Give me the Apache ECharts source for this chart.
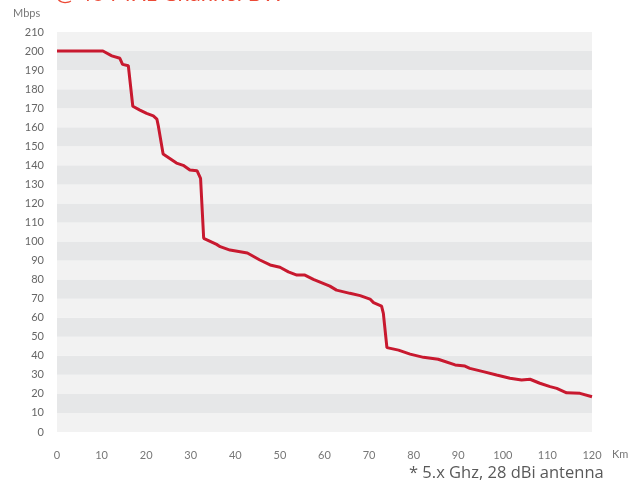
<!DOCTYPE html>
<html>
<head>
<meta charset="utf-8">
<script src="https://cdn.jsdelivr.net/npm/echarts@6/dist/echarts.min.js"></script>
<style>html,body{margin:0;padding:0;background:#fff}#c{width:642px;height:487px}</style>
</head>
<body>
<div id="c"></div>
<script>
var distanceKm = [0,10.3,12.3,14.1,14.7,16,17,18.6,20.1,21.6,22.4,22.7,23.8,26.8,28.3,29.8,31.4,32.2,32.9,35.8,36.6,38.8,42.7,45.5,47.8,50,51.9,53.8,55.6,57.5,61.2,62.7,65.7,68,70.2,71,72.8,73.2,74,76.6,79.2,82.2,85.5,89.3,91.5,92.6,95.6,98.6,101.6,104.2,106.1,108.3,110.6,112.1,114.3,117.3,120];
var throughputMbps = [200,200,197.5,196.2,193,192.3,171,169,167.3,166,164.3,161,146,141.2,140,137.5,137.2,133.2,101.7,98.5,97.3,95.5,94,90.3,87.7,86.5,84.1,82.4,82.4,80.1,76.6,74.5,72.8,71.6,69.8,67.9,66.1,62.3,44.3,43,40.9,39.2,38.2,35.2,34.6,33.4,31.7,29.9,28.2,27.3,27.7,25.6,23.8,22.9,20.6,20.3,18.5];
var titleText = '@ 40 MHz Channel BW';
var yUnit = 'Mbps';
var xUnit = 'Km';
var footnote = '* 5.x Ghz, 28 dBi antenna';

var points = distanceKm.map(function(k,i){return [k, throughputMbps[i]];});
var font = 'Lato, "Noto Sans", sans-serif';
var chart = echarts.init(document.getElementById('c'));
chart.setOption({
  animation: false,
  grid: {left: 57, right: 50, top: 32, bottom: 55},
  xAxis: {
    type: 'value', min: 0, max: 120, interval: 10,
    axisLine: {show: false}, axisTick: {show: false}, splitLine: {show: false},
    axisLabel: {color: '#777', fontSize: 11, margin: 18, fontFamily: font}
  },
  yAxis: {
    type: 'value', min: 0, max: 210, interval: 10,
    axisLine: {show: false}, axisTick: {show: false}, splitLine: {show: false},
    splitArea: {show: true, areaStyle: {color: ['#f2f2f2', '#e6e7e8']}},
    axisLabel: {color: '#666', fontSize: 11, margin: 13, fontFamily: font}
  },
  graphic: [
    {type: 'text', left: 55, top: -17, style: {text: titleText, fill: '#ec4a36', font: '22px ' + font}},
    {type: 'text', left: 13, top: 8, style: {text: yUnit, fill: '#777', font: '11px ' + font}},
    {type: 'text', left: 612, top: 449, style: {text: xUnit, fill: '#777', font: '11px ' + font}},
    {type: 'text', left: 409, top: 465, style: {text: footnote, fill: '#595959', font: '16.5px "Open Sans", sans-serif'}}
  ],
  series: [{
    type: 'line', data: points, showSymbol: false, smooth: false,
    lineStyle: {color: '#c8192f', width: 3}
  }]
});
</script>
</body>
</html>
